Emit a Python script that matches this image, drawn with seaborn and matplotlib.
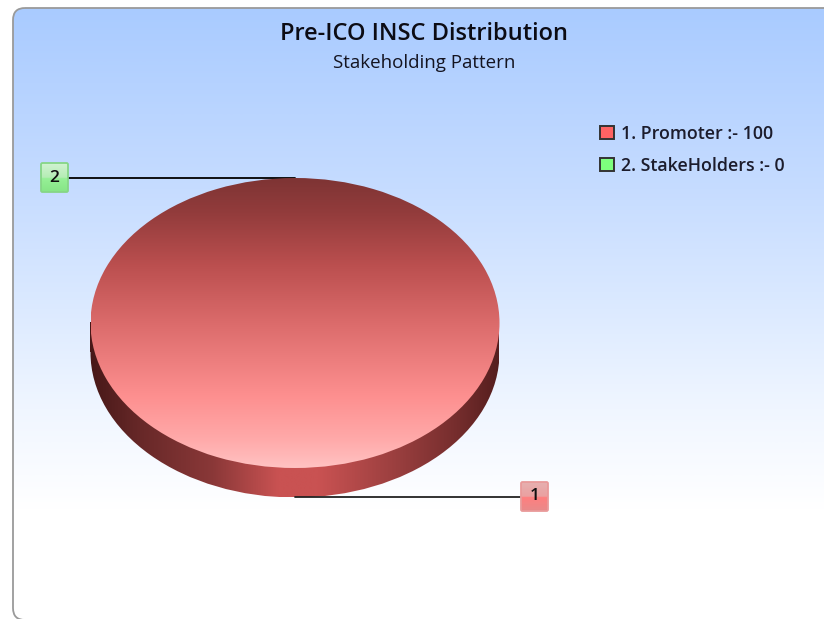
import numpy as np
import seaborn as sns
import matplotlib
matplotlib.use("Agg")
import matplotlib.pyplot as plt
from matplotlib.colors import LinearSegmentedColormap
from matplotlib.patches import Ellipse, FancyBboxPatch, Patch

# chart values
categories = ["Promoter", "StakeHolders"]
values = [100, 0]
title = "Pre-ICO INSC Distribution"
subtitle = "Stakeholding Pattern"

W, H = 824, 619
FONT = ["Open Sans", "DejaVu Sans"]

sns.set_theme(style="white")
plt.rcParams["font.family"] = FONT
palette = sns.color_palette(["#ff6363", "#7dff7d"])


def gradient(ax, extent, stops, horizontal=False, clip=None, zorder=1):
    """Paint a linear gradient on ax, optionally clipped to a patch."""
    cmap = LinearSegmentedColormap.from_list("g", stops)
    ramp = np.linspace(0, 1, 512)
    ramp = ramp.reshape(1, -1) if horizontal else ramp.reshape(-1, 1)
    im = ax.imshow(ramp, cmap=cmap, extent=extent, aspect="auto",
                   origin="upper", zorder=zorder, interpolation="bilinear")
    if clip is not None:
        im.set_clip_path(clip)
    return im


fig = plt.figure(figsize=(W / 100, H / 100), dpi=100, facecolor="white")
ax = fig.add_axes([0, 0, 1, 1])
ax.set_axis_off()

# card background
card = FancyBboxPatch((13, 8), 830, 612, boxstyle="round,pad=0,rounding_size=12",
                      fc="none", ec="#9a9a9a", lw=1.3, zorder=3)
ax.add_patch(card)
clip_card = FancyBboxPatch((13, 8), 830, 612, boxstyle="round,pad=0,rounding_size=12",
                           fc="none", ec="none", transform=ax.transData)
ax.add_patch(clip_card)
gradient(ax, (13, 843, 510, 8),
         [(0, "#a9cbff"), (0.36, "#c6dcff"), (0.6, "#dceaff"), (0.8, "#f0f6ff"), (1, "#ffffff")],
         clip=clip_card)

# pie geometry in pixels
cx, cy, rx, ry, depth = 295, 323, 204.5, 145, 29.5

# side wall of the pie
side_stops = [(0, "#471818"), (0.12, "#672828"), (0.3, "#8a3838"), (0.46, "#c95252"),
              (0.56, "#c95252"), (0.75, "#9a3f3f"), (0.9, "#752d2d"), (1, "#551e1e")]
gradient(ax, (cx - rx, cx + rx, cy + depth, cy), side_stops, horizontal=True, zorder=2)
bottom_edge = Ellipse((cx, cy + depth), 2 * rx, 2 * ry, fc="none", ec="none")
ax.add_patch(bottom_edge)
gradient(ax, (cx - rx, cx + rx, cy + depth + ry, cy + depth - ry), side_stops,
         horizontal=True, clip=bottom_edge, zorder=2)

# leader lines
ax.plot([68, cx], [178, 178], color="black", lw=1.3, zorder=4)
ax.plot([cx, 520], [497, 497], color="#222222", lw=1.3, zorder=4)


def marker_box(x0, y0, w, h, label, edge, stops):
    box = FancyBboxPatch((x0, y0), w, h, boxstyle="round,pad=0,rounding_size=1.5",
                         fc="none", ec=edge, lw=1.3, zorder=6)
    ax.add_patch(box)
    gradient(ax, (x0, x0 + w, y0 + h, y0), stops, clip=box, zorder=5)
    ax.text(x0 + w / 2, y0 + h / 2, label, ha="center", va="center",
            fontsize=12.5, fontweight=600, color="#101010", zorder=7)


marker_box(41, 163, 27, 29, "2", "#86d686",
           [(0, "#d2f3d2"), (0.5, "#b4edb4"), (0.52, "#97f097"), (1, "#86e586")])
marker_box(521, 482, 27, 29, "1", "#e99a9a",
           [(0, "#e6b0b0"), (0.5, "#eba0a0"), (0.52, "#ff7f7f"), (1, "#e88a8a")])

# legend, built from the values
handles = [Patch(fc=c, ec="#333333", lw=1.4) for c in palette]
labels = [f"{i + 1}. {n} :- {v}" for i, (n, v) in enumerate(zip(categories, values))]
ax.legend(handles, labels, loc="upper left", bbox_to_anchor=(584 / W, 1 - 109 / H),
          frameon=False, handlelength=0.78, handleheight=0.78,
          handletextpad=0.42, labelspacing=0.78, borderpad=0.4,
          prop={"family": FONT, "size": 12.8, "weight": 600},
          labelcolor="#1c1c2c")

ax.text(424, 34, title, ha="center", va="center", fontsize=17, fontweight=600, color="#0c0c14")
ax.text(424, 63.5, subtitle, ha="center", va="center", fontsize=13.5, fontweight=500, color="#141420")

ax.set_xlim(0, W)
ax.set_ylim(H, 0)

# top face, a real pie stretched to the ellipse box
pie_ax = fig.add_axes([(cx - rx) / W, 1 - (cy + ry) / H, 2 * rx / W, 2 * ry / H], zorder=2)
wedges, _ = pie_ax.pie(values, radius=1, startangle=90, counterclock=False, frame=True,
                       wedgeprops={"fc": "none", "ec": "none"})
pie_ax.set_aspect("auto")
gradient(pie_ax, (-1, 1, -1, 1),
         [(0, "#7e3434"), (0.12, "#933c3c"), (0.3, "#bb4f4f"), (0.5, "#db6b6b"),
          (0.75, "#fd8f8f"), (0.9, "#ffa9a9"), (1, "#ffc2c2")],
         clip=wedges[0])
pie_ax.set_xlim(-1, 1)
pie_ax.set_ylim(-1, 1)
pie_ax.set_axis_off()

fig.savefig("out.png", dpi=100)
